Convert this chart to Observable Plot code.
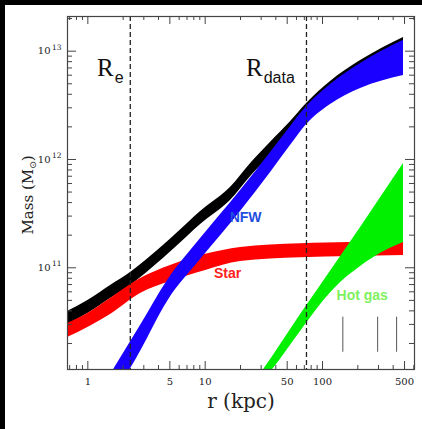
<!DOCTYPE html>
<html><head><meta charset="utf-8">
<script src="https://cdn.jsdelivr.net/npm/d3@7"></script>
<script src="https://cdn.jsdelivr.net/npm/@observablehq/plot@0.6"></script>
<style>
html,body{margin:0;padding:0;background:#fff;}
#wrap{position:relative;width:422px;height:429px;overflow:hidden;background:#fff;}
#chart{position:absolute;left:0;top:0;}
.bar{position:absolute;background:#000;}
</style></head><body>
<div id="wrap"><div id="chart"></div>
<div class="bar" style="left:0;top:0;width:422px;height:5px"></div>
<div class="bar" style="left:0;top:0;width:5px;height:429px"></div></div>
<script>
// ---- data (radius in kpc, mass in solar masses) ----
const totalR  = [0.67, 1.0, 1.56, 2.31, 3.42, 5.59, 9.14, 16.4, 24.4, 36.1, 53.5, 73.2, 117, 211, 490];
const totalLo = [2.99e10, 3.78e10, 5.21e10, 6.87e10, 9.64e10, 1.54e11, 2.51e11, 4.18e11, 6.97e11, 1.09e12, 1.70e12, 2.50e12, 3.51e12, 5.36e12, 8.20e12];
const totalHi = [3.94e10, 4.99e10, 6.87e10, 9.06e10, 1.27e11, 2.03e11, 3.31e11, 5.51e11, 9.18e11, 1.44e12, 2.24e12, 3.29e12, 5.25e12, 8.20e12, 1.34e13];

const starR  = [0.67, 1.0, 1.56, 2.81, 5.07, 10.1, 20, 65, 174, 490];
const starLo = [2.27e10, 2.81e10, 3.71e10, 5.79e10, 7.46e10, 9.44e10, 1.14e11, 1.24e11, 1.27e11, 1.30e11];
const starHi = [3.06e10, 3.78e10, 5.21e10, 7.96e10, 1.05e11, 1.33e11, 1.54e11, 1.67e11, 1.71e11, 1.79e11];

const nfwR  = [1.66, 2.81, 4.78, 9.14, 20.0, 36.1, 53.5, 73.2, 117, 211, 490];
const nfwLo = [6.34e9, 1.69e10, 4.89e10, 1.19e11, 3.31e11, 7.59e11, 1.35e12, 2.10e12, 3.22e12, 4.53e12, 5.97e12];
const nfwHi = [1.15e10, 2.93e10, 7.64e10, 1.86e11, 5.18e11, 1.16e12, 2.02e12, 3.08e12, 4.93e12, 7.70e12, 1.26e13];

const gasR  = [31.5, 37.6, 65.0, 96.4, 142.6, 211, 313, 490];
const gasLo = [9.10e9, 1.15e10, 2.58e10, 4.58e10, 7.31e10, 1.03e11, 1.36e11, 1.71e11];
const gasHi = [1.15e10, 1.52e10, 3.71e10, 6.87e10, 1.27e11, 2.36e11, 4.46e11, 9.18e11];

const refLines = [2.3, 73];             // R_e and R_data (kpc)
const refLabelR = [1.66, 30.9];         // right edge of the "R"
const refLabelSub = ["e", "data"];
const refLabelM = 6.92e12;

const markerR = [149, 295, 428];        // short vertical markers
const markerLo = 1.66e10, markerHi = 3.5e10;

const bandNames = ["NFW", "Star", "Hot gas"];
const bandLabelR = [22.1, 15.5, 218];
const bandLabelM = [2.89e11, 8.86e10, 5.50e10];
const bandLabelColor = ["#1f4ee0", "#ff2020", "#80f060"];

const xLabels = [1, 5, 10, 50, 100, 500];
const xMajor = [1, 5, 10, 50, 100, 500];
const xMinor = [0.7, 0.8, 0.9, 2, 3, 4, 6, 7, 8, 9, 20, 30, 40, 60, 70, 80, 90, 200, 300, 400, 600];
const yMajor = [1e11, 1e12, 1e13];
const yMinor = [2e10,3e10,4e10,5e10,6e10,7e10,8e10,9e10,2e11,3e11,4e11,5e11,6e11,7e11,8e11,9e11,2e12,3e12,4e12,5e12,6e12,7e12,8e12,9e12,2e13];

const rows = (R, lo, hi) => R.map((r, i) => ({r, lo: lo[i], hi: hi[i]}));
const total = rows(totalR, totalLo, totalHi);
const star = rows(starR, starLo, starHi);
const nfw = rows(nfwR, nfwLo, nfwHi);
const gas = rows(gasR, gasLo, gasHi);
const bandLabels = bandNames.map((t, i) => ({t, r: bandLabelR[i], m: bandLabelM[i], c: bandLabelColor[i]}));
const refLabels = refLabelR.map((r, i) => ({r, m: refLabelM, sub: refLabelSub[i]}));
const markers = markerR.map(r => ({r, lo: markerLo, hi: markerHi}));

const W = 422, H = 429, mL = 67, mR = 8, mT = 16, mB = 60;
const innerW = W - mL - mR, innerH = H - mT - mB;
const ax = "#444";
const serif = "DejaVu Serif";

const areaOpts = (fill) => ({x: "r", y1: "lo", y2: "hi", fill, curve: "monotone-x", clip: true});

const plot = Plot.plot({
  width: W, height: H, marginLeft: mL, marginRight: mR, marginTop: mT, marginBottom: mB,
  x: {type: "log", domain: [0.671, 608], axis: null},
  y: {type: "log", domain: [1.15e10, 2.09e13], axis: null},
  style: {background: "transparent"},
  marks: [
    Plot.areaY(total, areaOpts("#000000")),
    Plot.areaY(star, areaOpts("#ff0000")),
    Plot.areaY(nfw, areaOpts("#1a00ff")),
    Plot.areaY(gas, areaOpts("#00f000")),
    Plot.ruleX(refLines, {stroke: "#222", strokeWidth: 1.3, strokeDasharray: "5,3"}),
    Plot.ruleX(markers, {x: "r", y1: "lo", y2: "hi", stroke: "#555", strokeWidth: 1}),
    // ticks (inward) on all four sides
    Plot.ruleX(xMajor, {insetTop: innerH - 8, stroke: ax}),
    Plot.ruleX(xMajor, {insetBottom: innerH - 8, stroke: ax}),
    Plot.ruleX(xMinor, {insetTop: innerH - 4, stroke: ax}),
    Plot.ruleX(xMinor, {insetBottom: innerH - 4, stroke: ax}),
    Plot.ruleY(yMajor, {insetRight: innerW - 9, stroke: ax}),
    Plot.ruleY(yMajor, {insetLeft: innerW - 9, stroke: ax}),
    Plot.ruleY(yMinor, {insetRight: innerW - 5, stroke: ax}),
    Plot.ruleY(yMinor, {insetLeft: innerW - 5, stroke: ax}),
    Plot.frame({stroke: ax, strokeWidth: 1.2}),
    // tick labels
    Plot.text(xLabels, {x: d => d, text: d => String(d), frameAnchor: "bottom", lineAnchor: "bottom", dy: 15, fontFamily: serif, fontSize: 10, fill: "#222"}),
    Plot.text(yMajor, {y: d => d, text: () => "10", frameAnchor: "left", textAnchor: "end", dx: -17, fontFamily: serif, fontSize: 10, fill: "#222"}),
    Plot.text(yMajor, {y: d => d, text: d => String(Math.round(Math.log10(d))), frameAnchor: "left", textAnchor: "end", dx: -6, dy: -4, fontFamily: serif, fontSize: 7.5, fill: "#222"}),
    // axis title x
    Plot.text(["r (kpc)"], {frameAnchor: "bottom", lineAnchor: "bottom", dy: 38, fontFamily: serif, fontSize: 20, fill: "#222"}),
    // reference labels
    Plot.text(refLabels, {x: "r", y: "m", text: () => "R", textAnchor: "end", fontFamily: "Liberation Serif", fontSize: 25, fill: "#111"}),
    Plot.text(refLabels, {x: "r", y: "m", text: "sub", textAnchor: "start", dx: 1, dy: 9, fontFamily: "Liberation Sans", fontSize: 16, fill: "#111"}),
    // band labels
    Plot.text(bandLabels, {x: "r", y: "m", text: "t", fill: "c", fontFamily: "Liberation Sans", fontWeight: "bold", fontSize: 14})
  ]
});
document.getElementById("chart").appendChild(plot);

// y axis title with subscript sun symbol
const t = d3.select(plot).append("text")
  .attr("transform", "translate(33,195) rotate(-90)")
  .attr("text-anchor", "middle")
  .attr("font-family", serif).attr("font-size", 15).attr("fill", "#222");
t.append("tspan").text("Mass (M");
t.append("tspan").attr("font-family", "DejaVu Sans").attr("font-size", 9).attr("dy", 3).text("\u2299");
t.append("tspan").attr("dy", -3).text(")");
</script>
</body></html>
